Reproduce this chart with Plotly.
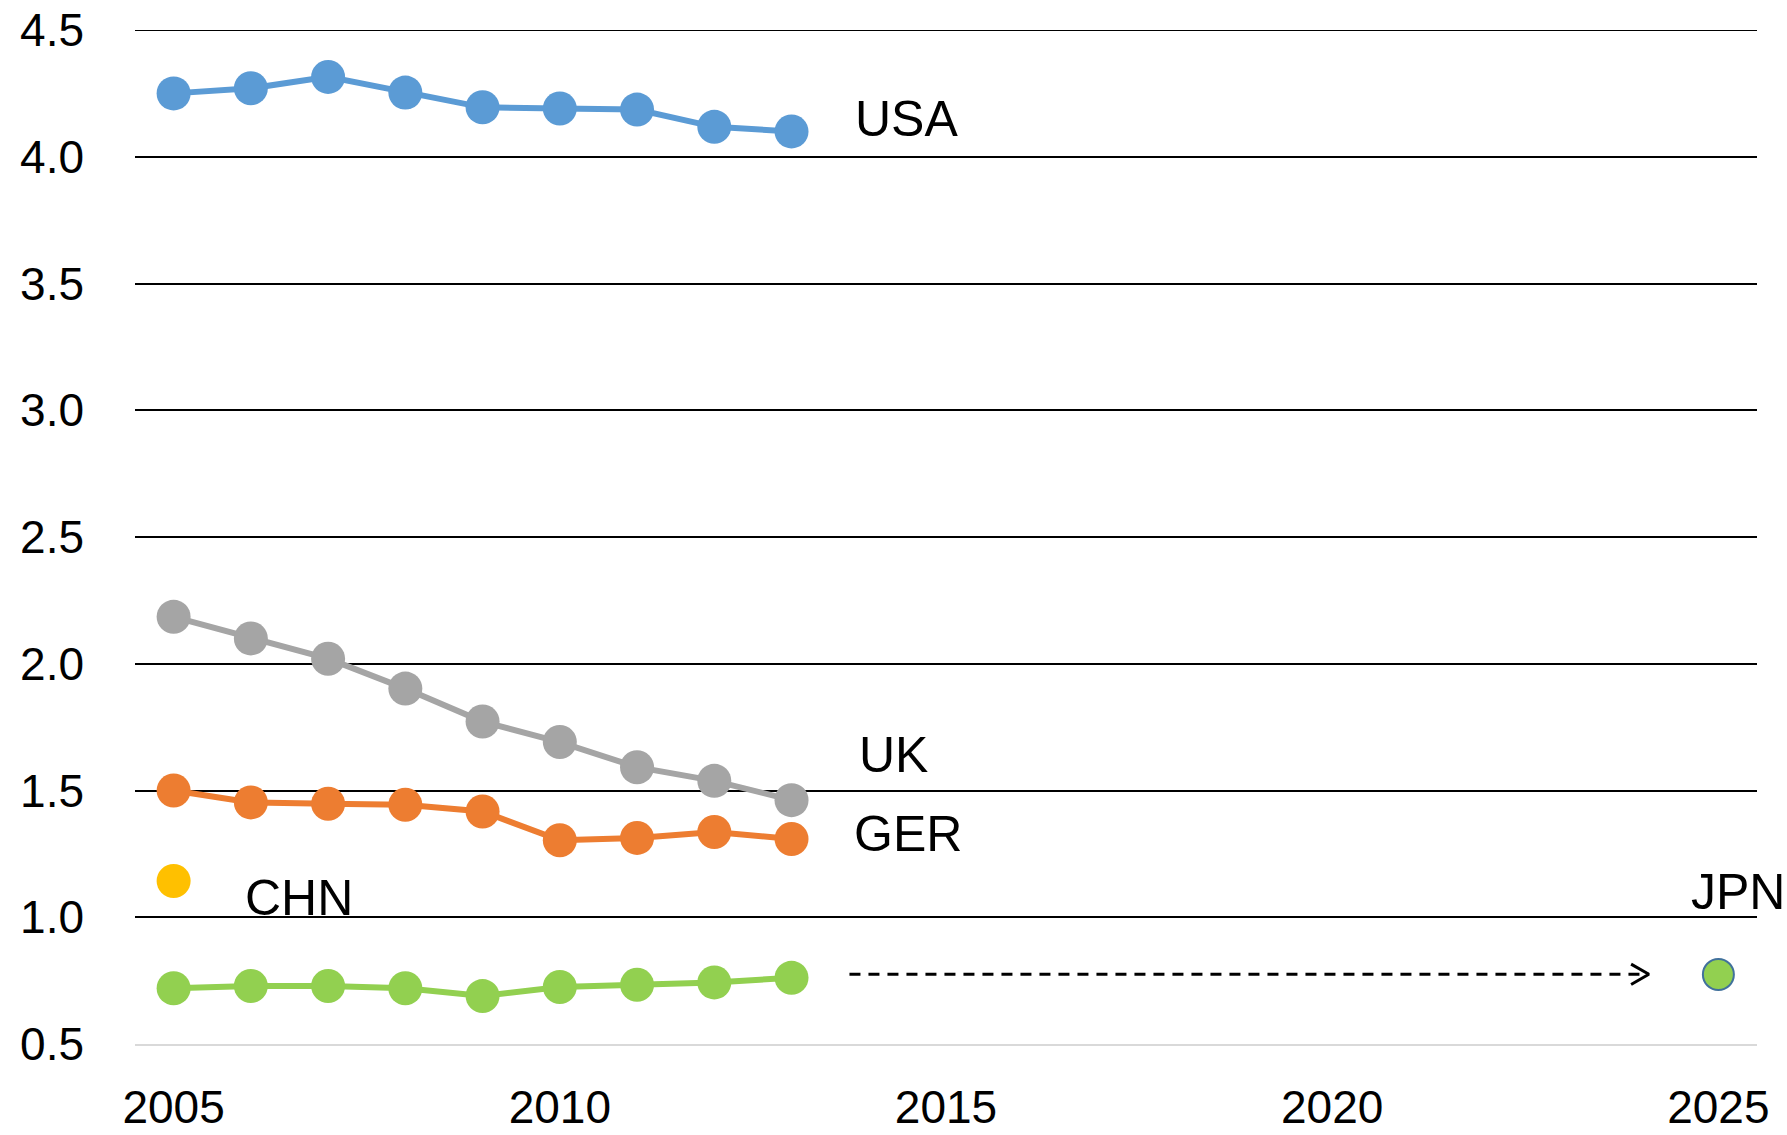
import plotly.graph_objects as go

years = [2005, 2006, 2007, 2008, 2009, 2010, 2011, 2012, 2013]
usa = [4.25, 4.27, 4.315, 4.253, 4.195, 4.19, 4.186, 4.118, 4.10]
uk = [2.185, 2.10, 2.02, 1.902, 1.772, 1.691, 1.592, 1.538, 1.462]
ger = [1.50, 1.453, 1.448, 1.444, 1.417, 1.304, 1.313, 1.336, 1.309]
jpn = [0.72, 0.729, 0.729, 0.72, 0.689, 0.725, 0.734, 0.743, 0.761]
chn_year = [2005]
chn = [1.143]
jpn_target_year = [2025]
jpn_target = [0.774]

arrow_x = [2013.75, 2024.1]
arrow_y = [0.775, 0.775]
head_dx = 0.23   # chevron depth in years
head_dy = 0.04   # chevron half-height in value units

labels = ["USA", "UK", "GER", "CHN", "JPN"]
label_x = [2013.8, 2013.85, 2013.78, 2005.9, 2024.62]
label_y = [4.15, 1.64, 1.33, 1.075, 1.10]

tick_x = [2005, 2010, 2015, 2020, 2025]
tick_y = [0.5, 1.0, 1.5, 2.0, 2.5, 3.0, 3.5, 4.0, 4.5]

FONT = "Liberation Sans"
MS = 34
LW = 6

fig = go.Figure()

def series(y, color):
    fig.add_trace(go.Scatter(
        x=years, y=y, mode="lines+markers",
        line=dict(color=color, width=LW),
        marker=dict(color=color, size=MS),
        showlegend=False, cliponaxis=False))

series(usa, "#5b9bd5")
series(uk, "#a5a5a5")
series(ger, "#ed7d31")
series(jpn, "#92d050")

fig.add_trace(go.Scatter(x=chn_year, y=chn, mode="markers",
                         marker=dict(color="#ffc000", size=MS),
                         showlegend=False, cliponaxis=False))
fig.add_trace(go.Scatter(x=jpn_target_year, y=jpn_target, mode="markers",
                         marker=dict(color="#92d050", size=MS - 3,
                                     line=dict(color="#41719c", width=2)),
                         showlegend=False, cliponaxis=False))

# dashed arrow with open chevron head
fig.add_trace(go.Scatter(x=arrow_x, y=arrow_y, mode="lines",
                         line=dict(color="black", width=3, dash="11px,8px"),
                         showlegend=False, hoverinfo="skip"))
tip_x, tip_y = arrow_x[1], arrow_y[1]
fig.add_trace(go.Scatter(x=[tip_x - head_dx, tip_x, tip_x - head_dx],
                         y=[tip_y + head_dy, tip_y, tip_y - head_dy], mode="lines",
                         line=dict(color="black", width=3),
                         showlegend=False, hoverinfo="skip"))

for t, lx, ly in zip(labels, label_x, label_y):
    fig.add_annotation(x=lx, y=ly, xref="x", yref="y", text=t, showarrow=False,
                       xanchor="left", yanchor="middle",
                       font=dict(family=FONT, size=50, color="black"))

# top gridline (plotly omits the gridline at the range end)
fig.add_shape(type="line", xref="paper", yref="y", x0=0, x1=1,
              y0=tick_y[-1], y1=tick_y[-1], line=dict(color="black", width=2),
              layer="below")

fig.update_layout(
    width=1787, height=1135,
    margin=dict(l=135, r=30, t=30, b=91),
    paper_bgcolor="white", plot_bgcolor="white",
    font=dict(family=FONT, color="black"),
)
fig.update_xaxes(range=[2004.5, 2025.5], tickvals=tick_x, ticktext=[str(v) for v in tick_x],
                 showgrid=False, zeroline=False, showline=True, linecolor="#d9d9d9",
                 linewidth=2, ticks="", tickfont=dict(family=FONT, size=46, color="black"),
                 ticklabelstandoff=22, automargin=False)
fig.update_yaxes(range=[0.5, 4.5], tickvals=tick_y, ticktext=[f"{v:.1f}" for v in tick_y],
                 showgrid=True, gridcolor="black", gridwidth=2, zeroline=False,
                 showline=False, ticks="", tickfont=dict(family=FONT, size=46, color="black"),
                 ticklabelstandoff=50, automargin=False)

fig.write_html("out.html", config={"displayModeBar": False},
               post_script="document.body.style.margin='0';")
